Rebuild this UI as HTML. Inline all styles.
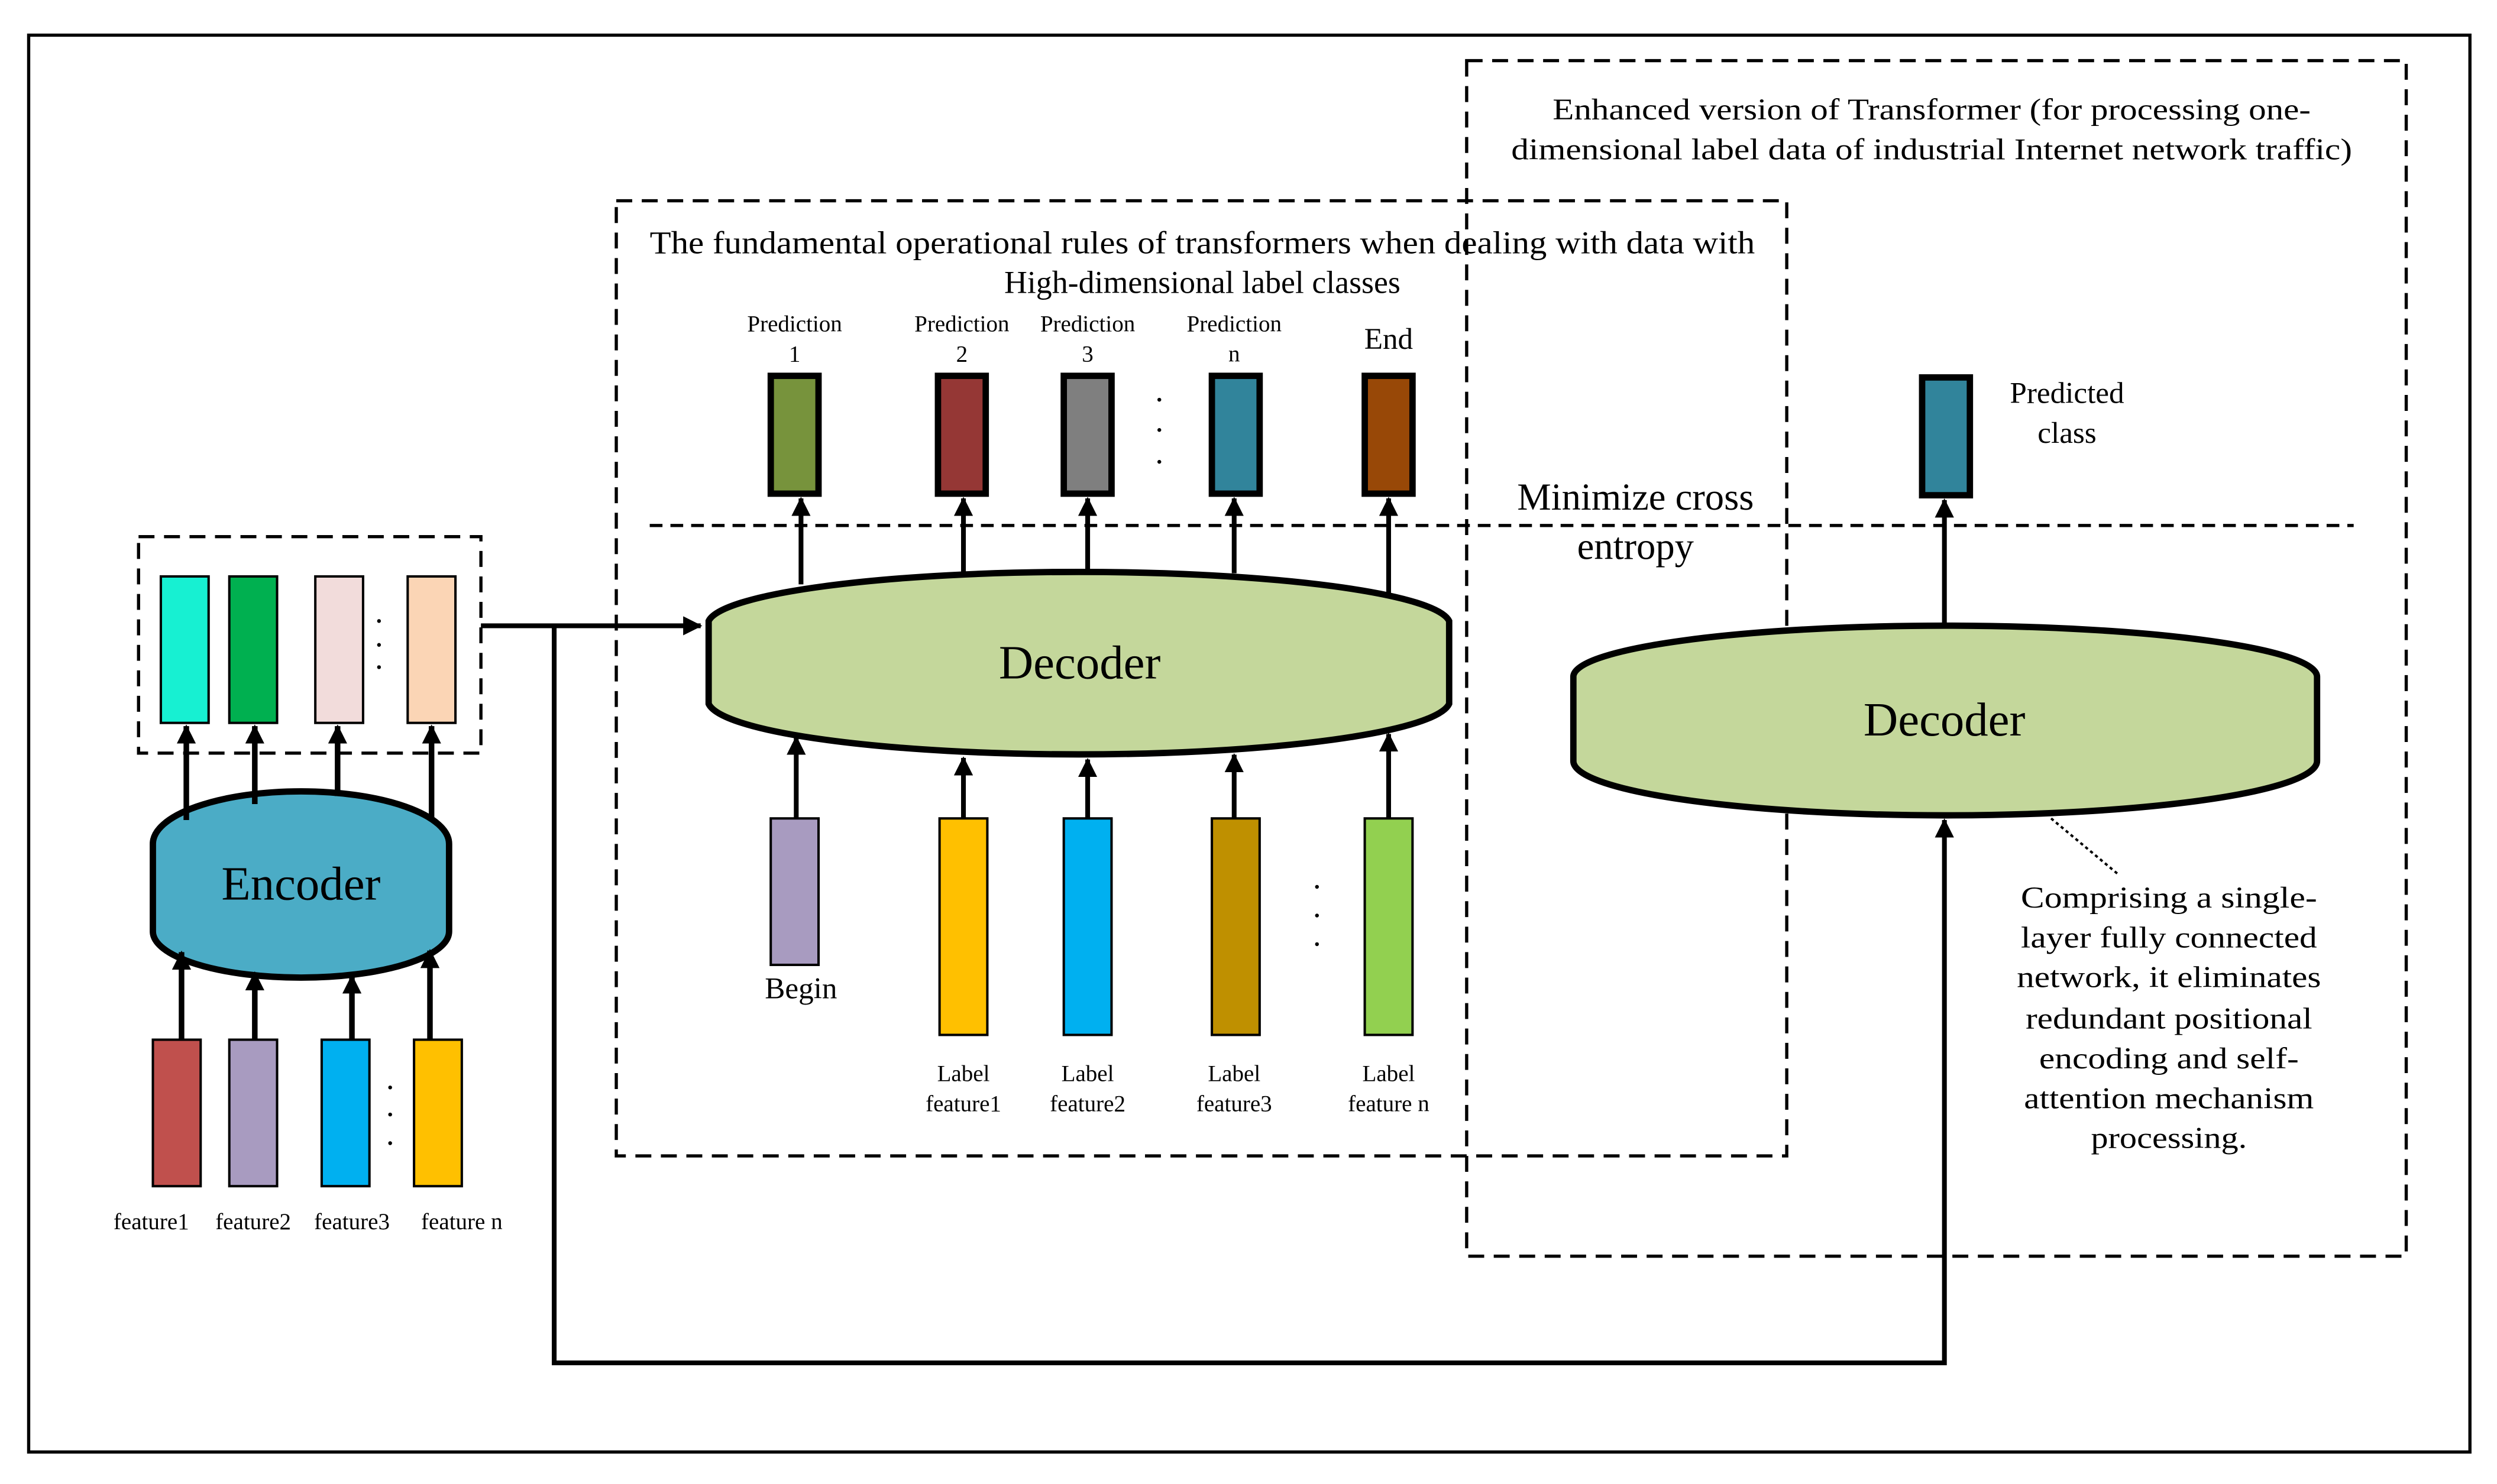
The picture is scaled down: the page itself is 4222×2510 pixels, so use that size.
<!DOCTYPE html>
<html><head><meta charset="utf-8"><style>html,body{margin:0;padding:0;background:#fff}svg{display:block}text{font-family:"Liberation Serif",serif;fill:#000}</style></head>
<body>
<svg width="4222" height="2510" viewBox="0 0 1568 932" xmlns="http://www.w3.org/2000/svg">
<defs>
<marker id="a" markerWidth="8" markerHeight="8" refX="6" refY="4" orient="auto" markerUnits="userSpaceOnUse"><path d="M0,0 L8,4 L0,8 Z" fill="#000" transform="translate(-1,0)"/></marker>
<marker id="b" markerWidth="12" markerHeight="12" refX="11" refY="6" orient="auto" markerUnits="userSpaceOnUse"><path d="M0,0 L12,6 L0,12 Z" fill="#000"/></marker>
</defs>
<rect x="18" y="22" width="1533" height="890" fill="none" stroke="#000" stroke-width="2"/>
<g fill="none" stroke="#000" stroke-width="2" stroke-dasharray="10,6">
<rect x="921" y="38" width="590" height="751"/>
<rect x="387" y="126" width="735" height="600"/>
<rect x="87" y="337" width="215" height="136"/>
<line x1="408" y1="330" x2="1478" y2="330" stroke-dasharray="8,5"/>
</g>
<!-- encoder output boxes -->
<g stroke="#000" stroke-width="1.5">
<rect x="101" y="362" width="30" height="92" fill="#17f0d2"/>
<rect x="144" y="362" width="30" height="92" fill="#00b050"/>
<rect x="198" y="362" width="30" height="92" fill="#f2dcdb"/>
<rect x="256" y="362" width="30" height="92" fill="#fbd5b5"/>
<rect x="96" y="653" width="30" height="92" fill="#c0504d"/>
<rect x="144" y="653" width="30" height="92" fill="#a89bc0"/>
<rect x="202" y="653" width="30" height="92" fill="#00b0f0"/>
<rect x="260" y="653" width="30" height="92" fill="#ffc000"/>
</g>
<g fill="#000"><circle cx="238" cy="390" r="1.2"/><circle cx="238" cy="405" r="1.2"/><circle cx="238" cy="419" r="1.2"/>
<circle cx="245" cy="683" r="1.2"/><circle cx="245" cy="700" r="1.2"/><circle cx="245" cy="718" r="1.2"/>
<circle cx="728" cy="251" r="1.2"/><circle cx="728" cy="270" r="1.2"/><circle cx="728" cy="290" r="1.2"/>
<circle cx="827" cy="557" r="1.2"/><circle cx="827" cy="575" r="1.2"/><circle cx="827" cy="593" r="1.2"/></g>
<!-- encoder -->
<path d="M96,530 A93,33 0 0 1 282,530 L282,585 A93,29 0 0 1 96,585 Z" fill="#4bacc6" stroke="#000" stroke-width="4"/>
<text x="189" y="565" font-size="30" text-anchor="middle">Encoder</text>
<g stroke="#000" stroke-width="3.5" marker-end="url(#b)">
<line x1="117" y1="515" x2="117" y2="456"/><line x1="160" y1="505" x2="160" y2="456"/>
<line x1="212" y1="500" x2="212" y2="456"/><line x1="271" y1="515" x2="271" y2="456"/>
<line x1="114" y1="653" x2="114" y2="598"/><line x1="160" y1="653" x2="160" y2="611"/>
<line x1="221" y1="653" x2="221" y2="613"/><line x1="270" y1="653" x2="270" y2="597"/>
</g>
<g font-size="14.5" text-anchor="middle"><text x="95" y="772">feature1</text><text x="159" y="772">feature2</text><text x="221" y="772">feature3</text><text x="290" y="772">feature n</text></g>
<!-- connectors -->
<polyline points="302,393 440,393" fill="none" stroke="#000" stroke-width="3" marker-end="url(#b)"/>
<polyline points="348,393 348,856 1221,856 1221,515" fill="none" stroke="#000" stroke-width="3" marker-end="url(#b)"/>
<!-- decoder 1 -->
<path d="M445,390 A233,33 0 0 1 910,390 L910,442 A233,34 0 0 1 445,442 Z" fill="#c4d79b" stroke="#000" stroke-width="4"/>
<text x="678" y="426" font-size="30" text-anchor="middle">Decoder</text>
<g stroke="#000" stroke-width="1.5">
<rect x="484" y="236" width="30" height="74" fill="#77933c" stroke-width="4"/>
<rect x="589" y="236" width="30" height="74" fill="#953735" stroke-width="4"/>
<rect x="668" y="236" width="30" height="74" fill="#7f7f7f" stroke-width="4"/>
<rect x="761" y="236" width="30" height="74" fill="#31849b" stroke-width="4"/>
<rect x="857" y="236" width="30" height="74" fill="#984807" stroke-width="4"/>
<rect x="1207" y="237" width="30" height="74" fill="#31849b" stroke-width="4"/>
<rect x="484" y="514" width="30" height="92" fill="#a89bc0"/>
<rect x="590" y="514" width="30" height="136" fill="#ffc000"/>
<rect x="668" y="514" width="30" height="136" fill="#00b0f0"/>
<rect x="761" y="514" width="30" height="136" fill="#bf9000"/>
<rect x="857" y="514" width="30" height="136" fill="#92d050"/>
</g>
<g stroke="#000" stroke-width="3" marker-end="url(#b)">
<line x1="503" y1="367" x2="503" y2="313"/><line x1="605" y1="360" x2="605" y2="313"/>
<line x1="683" y1="358" x2="683" y2="313"/><line x1="775" y1="360" x2="775" y2="313"/>
<line x1="872" y1="374" x2="872" y2="313"/><line x1="1221" y1="393" x2="1221" y2="314"/>
<line x1="500" y1="514" x2="500" y2="463"/><line x1="605" y1="514" x2="605" y2="476"/>
<line x1="683" y1="514" x2="683" y2="477"/><line x1="775" y1="514" x2="775" y2="474"/>
<line x1="872" y1="514" x2="872" y2="461"/>
</g>
<g font-size="14.5" text-anchor="middle">
<text x="499" y="208">Prediction</text><text x="499" y="227">1</text>
<text x="604" y="208">Prediction</text><text x="604" y="227">2</text>
<text x="683" y="208">Prediction</text><text x="683" y="227">3</text>
<text x="775" y="208">Prediction</text><text x="775" y="227">n</text>
<text x="605" y="679">Label</text><text x="605" y="698">feature1</text>
<text x="683" y="679">Label</text><text x="683" y="698">feature2</text>
<text x="775" y="679">Label</text><text x="775" y="698">feature3</text>
<text x="872" y="679">Label</text><text x="872" y="698">feature n</text>
</g>
<text x="872" y="219" font-size="19" text-anchor="middle">End</text>
<text x="503" y="627" font-size="19" text-anchor="middle">Begin</text>
<text x="755" y="159" font-size="20" text-anchor="middle" textLength="694" lengthAdjust="spacingAndGlyphs">The fundamental operational rules of transformers when dealing with data with</text>
<text x="755" y="184" font-size="20" text-anchor="middle">High-dimensional label classes</text>
<text x="1027" y="320" font-size="24" text-anchor="middle">Minimize cross</text>
<text x="1027" y="351" font-size="24" text-anchor="middle">entropy</text>
<text x="1213" y="75" font-size="19" text-anchor="middle" textLength="476" lengthAdjust="spacingAndGlyphs">Enhanced version of Transformer (for processing one-</text>
<text x="1213" y="100" font-size="19" text-anchor="middle" textLength="528" lengthAdjust="spacingAndGlyphs">dimensional label data of industrial Internet network traffic)</text>
<!-- decoder 2 -->
<path d="M988,425 A233,32 0 0 1 1455,425 L1455,478 A233,34 0 0 1 988,478 Z" fill="#c4d79b" stroke="#000" stroke-width="4"/>
<text x="1221" y="462" font-size="30" text-anchor="middle">Decoder</text>
<line x1="1288" y1="514" x2="1330" y2="549" stroke="#000" stroke-width="1.5" stroke-dasharray="2,2"/>
<text x="1298" y="253" font-size="19" text-anchor="middle">Predicted</text>
<text x="1298" y="278" font-size="19" text-anchor="middle">class</text>
<g font-size="19" text-anchor="middle">
<text x="1362" y="570" textLength="186" lengthAdjust="spacingAndGlyphs">Comprising a single-</text>
<text x="1362" y="595" textLength="186" lengthAdjust="spacingAndGlyphs">layer fully connected</text>
<text x="1362" y="620" textLength="191" lengthAdjust="spacingAndGlyphs">network, it eliminates</text>
<text x="1362" y="646" textLength="180" lengthAdjust="spacingAndGlyphs">redundant positional</text>
<text x="1362" y="671" textLength="163" lengthAdjust="spacingAndGlyphs">encoding and self-</text>
<text x="1362" y="696" textLength="182" lengthAdjust="spacingAndGlyphs">attention mechanism</text>
<text x="1362" y="721" textLength="98" lengthAdjust="spacingAndGlyphs">processing.</text>
</g>
</svg>
</body></html>
